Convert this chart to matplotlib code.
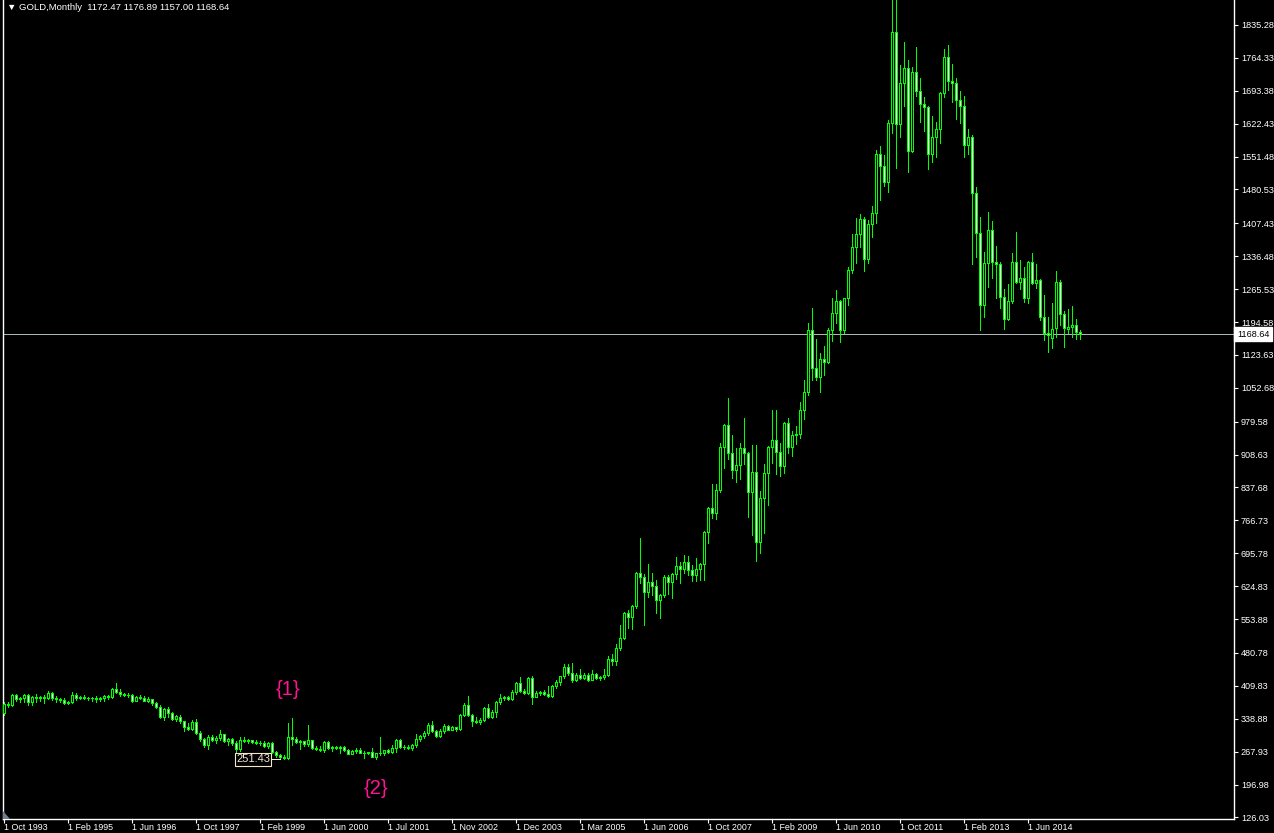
import matplotlib
matplotlib.use("Agg")
import matplotlib.pyplot as plt
import matplotlib.transforms as mtransforms
from matplotlib.patches import Polygon

# monthly GOLD bars (bar index 0 = Oct 1993)
opens = [
    352, 370, 368, 390, 381, 383, 391, 376, 386, 384,
    385, 383, 395, 383, 381, 379, 372, 376, 390, 384,
    386, 384, 383, 384, 382, 383, 388, 386, 404, 397,
    393, 391, 389, 378, 386, 384, 378, 381, 372, 365,
    343, 359, 351, 338, 343, 333, 320, 317, 332, 309,
    296, 282, 300, 292, 298, 305, 290, 295, 287, 273,
    294, 291, 292, 288, 287, 287, 279, 286, 268, 261,
    256, 254, 300, 295, 289, 290, 285, 293, 276, 273,
    272, 288, 275, 277, 276, 278, 271, 263, 270, 272,
    265, 266, 267, 257, 264, 266, 271, 268, 275, 293,
    278, 277, 275, 282, 296, 301, 309, 325, 313, 302,
    313, 323, 315, 320, 317, 347, 368, 347, 335, 332,
    337, 363, 343, 354, 376, 383, 385, 381, 397, 417,
    399, 395, 426, 386, 394, 396, 393, 388, 409, 419,
    430, 451, 437, 422, 434, 427, 433, 423, 435, 426,
    429, 433, 467, 464, 491, 514, 566, 559, 582, 653,
    644, 613, 634, 625, 596, 606, 645, 634, 651, 668,
    661, 677, 660, 648, 661, 672, 742, 793, 782, 832,
    924, 972, 913, 876, 886, 922, 911, 829, 871, 721,
    816, 870, 926, 940, 915, 885, 976, 924, 951, 953,
    1005, 1043, 1177, 1095, 1077, 1114, 1109, 1177, 1213, 1239,
    1177, 1246, 1307, 1356, 1384, 1416, 1330, 1407, 1429, 1558,
    1532, 1497, 1623, 1821, 1621, 1711, 1742, 1563, 1733, 1693,
    1664, 1659, 1556, 1593, 1610, 1688, 1767, 1715, 1711, 1673,
    1660, 1576, 1593, 1472, 1386, 1231, 1321, 1393, 1325, 1320,
    1248, 1201, 1241, 1323, 1281, 1289, 1246, 1323, 1279, 1285,
    1205, 1170, 1160, 1181, 1280, 1212, 1180, 1183, 1189, 1172.47,
]
highs = [
    376, 376, 393, 393, 386, 393, 392, 388, 392, 388,
    390, 399, 396, 387, 384, 384, 378, 396, 395, 388,
    391, 386, 386, 387, 385, 389, 390, 406, 417, 402,
    395, 394, 392, 388, 390, 388, 385, 382, 374, 368,
    362, 365, 353, 347, 346, 335, 330, 336, 338, 313,
    298, 303, 303, 302, 314, 307, 298, 298, 290, 300,
    300, 296, 294, 292, 291, 290, 288, 289, 270, 263,
    260, 329, 341, 300, 293, 291, 325, 294, 281, 281,
    290, 291, 279, 279, 279, 279, 274, 271, 276, 275,
    270, 268, 275, 266, 300, 272, 274, 282, 296, 295,
    282, 282, 284, 307, 304, 312, 330, 333, 315, 316,
    327, 326, 323, 322, 349, 373, 388, 350, 342, 340,
    365, 371, 357, 378, 393, 388, 387, 401, 419, 428,
    404, 428, 431, 398, 399, 400, 409, 412, 422, 432,
    456, 457, 460, 438, 446, 438, 437, 444, 437, 432,
    446, 474, 478, 500, 541, 570, 573, 584, 655, 728,
    650, 672, 654, 638, 609, 648, 649, 653, 687, 677,
    691, 690, 671, 685, 674, 744, 795, 845, 845, 934,
    975, 1031, 950, 922, 934, 987, 915, 930, 929, 831,
    888, 927, 1005, 1005, 933, 980, 987, 960, 970, 1023,
    1069, 1192, 1224, 1159, 1127, 1143, 1181, 1246, 1264, 1242,
    1247, 1314, 1384, 1420, 1427, 1422, 1415, 1445, 1565, 1574,
    1555, 1630, 1912, 1920, 1749, 1799, 1760, 1744, 1788, 1722,
    1679, 1661, 1639, 1626, 1691, 1783, 1792, 1751, 1721, 1693,
    1682, 1612, 1599, 1485, 1422, 1346, 1432, 1413, 1358, 1325,
    1266, 1277, 1343, 1389, 1328, 1314, 1326, 1343, 1319, 1287,
    1253, 1205, 1236, 1305, 1285, 1219, 1222, 1229, 1202, 1176.89,
]
lows = [
    346, 364, 366, 378, 374, 374, 369, 369, 374, 378,
    372, 382, 380, 376, 376, 370, 370, 372, 380, 381,
    381, 380, 377, 376, 378, 378, 381, 384, 394, 388,
    388, 386, 376, 377, 382, 377, 376, 368, 363, 341,
    337, 343, 336, 334, 330, 313, 314, 314, 305, 291,
    277, 274, 290, 286, 293, 288, 282, 283, 266, 270,
    288, 287, 286, 284, 283, 277, 275, 266, 257, 251.43,
    253, 252, 282, 287, 273, 279, 279, 273, 272, 269,
    268, 274, 269, 273, 266, 270, 262, 262, 265, 264,
    255, 262, 256, 252, 261, 261, 265, 264, 268, 276,
    274, 273, 272, 278, 290, 297, 303, 310, 300, 299,
    309, 314, 314, 313, 314, 344, 345, 324, 330, 327,
    335, 340, 340, 343, 370, 379, 379, 379, 393, 397,
    392, 393, 370, 386, 390, 390, 386, 386, 405, 412,
    426, 433, 418, 420, 424, 425, 420, 422, 424, 423,
    425, 431, 455, 455, 488, 510, 534, 532, 578, 632,
    541, 602, 606, 567, 557, 602, 609, 600, 640, 631,
    654, 649, 636, 636, 638, 639, 719, 771, 769, 827,
    879, 900, 858, 850, 856, 889, 775, 736, 680, 697,
    739, 799, 890, 866, 862, 870, 911, 906, 932, 944,
    985, 1037, 1070, 1069, 1044, 1080, 1106, 1154, 1192, 1152,
    1170, 1231, 1301, 1321, 1357, 1305, 1321, 1377, 1409, 1458,
    1487, 1474, 1603, 1527, 1593, 1661, 1519, 1562, 1683, 1625,
    1607, 1524, 1540, 1551, 1580, 1681, 1694, 1670, 1632, 1623,
    1551, 1558, 1319, 1334, 1177, 1205, 1271, 1289, 1247, 1224,
    1179, 1200, 1236, 1279, 1265, 1238, 1236, 1277, 1267, 1200,
    1156, 1130, 1139, 1163, 1188, 1140, 1170, 1163, 1159, 1157.00,
]
closes = [
    370, 368, 390, 381, 383, 391, 376, 386, 384, 385,
    383, 395, 383, 381, 379, 372, 376, 390, 384, 386,
    384, 383, 384, 382, 383, 388, 386, 404, 397, 393,
    391, 389, 378, 386, 384, 378, 381, 372, 365, 343,
    359, 351, 338, 344, 333, 320, 317, 332, 309, 296,
    282, 300, 292, 298, 305, 290, 295, 287, 273, 294,
    291, 292, 288, 287, 287, 279, 286, 268, 261, 256,
    254, 300, 295, 289, 290, 285, 293, 276, 273, 272,
    288, 275, 277, 276, 278, 271, 263, 270, 272, 265,
    266, 267, 257, 264, 266, 271, 268, 275, 293, 278,
    277, 275, 282, 296, 301, 309, 325, 313, 302, 313,
    323, 315, 320, 317, 347, 368, 347, 335, 332, 337,
    363, 343, 354, 376, 383, 385, 381, 397, 417, 399,
    395, 426, 386, 394, 396, 393, 388, 409, 419, 430,
    451, 437, 422, 434, 427, 433, 423, 435, 426, 429,
    433, 467, 464, 491, 514, 566, 559, 582, 653, 644,
    613, 634, 625, 596, 606, 645, 634, 651, 668, 661,
    677, 660, 648, 661, 672, 742, 793, 782, 832, 924,
    972, 913, 876, 886, 922, 911, 829, 871, 721, 816,
    870, 926, 940, 915, 885, 976, 924, 951, 953, 1005,
    1043, 1177, 1095, 1077, 1114, 1109, 1177, 1213, 1239, 1177,
    1246, 1307, 1356, 1384, 1416, 1330, 1407, 1429, 1558, 1532,
    1497, 1623, 1821, 1621, 1711, 1742, 1563, 1733, 1693, 1664,
    1659, 1556, 1593, 1610, 1688, 1767, 1715, 1711, 1673, 1660,
    1576, 1593, 1472, 1386, 1231, 1321, 1393, 1325, 1320, 1248,
    1201, 1241, 1323, 1281, 1289, 1246, 1323, 1279, 1285, 1205,
    1170, 1166, 1179, 1280, 1212, 1182, 1183, 1189, 1172, 1168.64,
]

date_labels = ["1 Oct 1993", "1 Feb 1995", "1 Jun 1996", "1 Oct 1997", "1 Feb 1999",
               "1 Jun 2000", "1 Jul 2001", "1 Nov 2002", "1 Dec 2003", "1 Mar 2005",
               "1 Jun 2006", "1 Oct 2007", "1 Feb 2009", "1 Jun 2010", "1 Oct 2011",
               "1 Feb 2013", "1 Jun 2014"]
label_step = 16
price_ticks = [126.03, 196.98, 267.93, 338.88, 409.83, 480.78, 553.88, 624.83, 695.78,
               766.73, 837.68, 908.63, 979.58, 1052.68, 1123.63, 1194.58, 1265.53,
               1336.48, 1407.43, 1480.53, 1551.48, 1622.43, 1693.38, 1764.33, 1835.28]

GREEN = "#00ff00"
FONT = ["Liberation Sans", "DejaVu Sans"]
W, H = 1274, 833

fig = plt.figure(figsize=(W / 100, H / 100), dpi=100, facecolor="black")
ax = fig.add_axes([3 / W, 14 / H, 1231 / W, 819 / H], facecolor="black")

x = list(range(len(closes)))
heights = [c - o for o, c in zip(opens, closes)]
faces = ["black" if c >= o else "white" for o, c in zip(opens, closes)]

# last price line
ax.axhline(closes[-1], color="#a9b8b4", lw=0.72, zorder=1)

ax.vlines(x, lows, highs, colors=GREEN, lw=0.72, zorder=2, antialiased=False)
ax.bar(x, heights, bottom=opens, width=0.6, color=faces, edgecolor=GREEN,
       linewidth=0.72, zorder=3, antialiased=False)

ax.set_xlim(-0.25, 307.5)
ax.set_ylim(122.6, 1889.2)

for s in ["left", "right", "bottom"]:
    ax.spines[s].set_color("white")
    ax.spines[s].set_linewidth(1.0)
ax.spines["top"].set_visible(False)

ax.yaxis.tick_right()
ax.set_yticks(price_ticks)
ax.set_yticklabels(["%.2f" % v for v in price_ticks], family=FONT)
ax.tick_params(axis="y", colors="white", length=3, width=0.8, pad=2, labelsize=6.6)

xt = [i * label_step for i in range(len(date_labels))]
ax.set_xticks(xt)
ax.set_xticklabels(date_labels, family=FONT, ha="left")
ax.tick_params(axis="x", colors="white", length=3, width=0.8, pad=0, labelsize=6.4)

# current price box on the price scale
tr = mtransforms.blended_transform_factory(ax.transAxes, ax.transData)
ax.text(1 + 3 / 1231, closes[-1], "%.2f" % closes[-1], transform=tr, ha="left", va="center",
        fontsize=6.6, family=FONT, color="black", clip_on=False,
        bbox=dict(boxstyle="square,pad=0.3", fc="white", ec="white"))

# low label
low_val = min(lows)
low_i = lows.index(low_val)
ax.text(low_i - 2.5, low_val, "%.2f" % low_val, ha="right", va="center", fontsize=8,
        family=FONT, color="#f5e6cc",
        bbox=dict(boxstyle="square,pad=0.12", fc="black", ec="#f5e6cc", lw=0.8))
ax.plot([low_i - 2.4, low_i], [low_val, low_val], color="#f5e6cc", lw=0.72)

# wave marks
ax.text(71, 403, "{1}", ha="center", va="center", fontsize=14.5, family=FONT, color="#ff1493")
ax.text(93, 189, "{2}", ha="center", va="center", fontsize=14.5, family=FONT, color="#ff1493")

# small chart-shift marker in the bottom-left corner
ax.add_patch(Polygon([[0, 0], [7 / 1231, 0], [0, 8 / 819]], closed=True,
                     transform=ax.transAxes, fc="#6f7f8f", ec="none", zorder=4))

fig.text(7 / W, 1 - 7 / H,
         "\u25bc GOLD,Monthly  %.2f %.2f %.2f %.2f" % (opens[-1], highs[-1], lows[-1], closes[-1]),
         ha="left", va="center", fontsize=6.8, family=FONT, color="white")

fig.savefig("out.png", dpi=100, facecolor="black")
